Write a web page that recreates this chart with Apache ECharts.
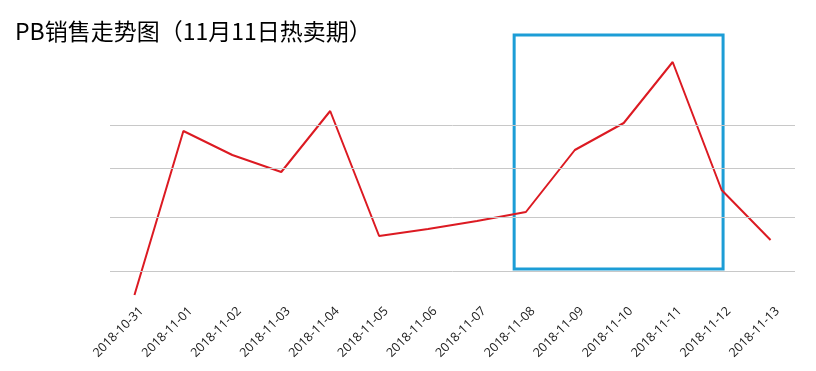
<!DOCTYPE html>
<html>
<head>
<meta charset="utf-8">
<script src="https://cdn.jsdelivr.net/npm/echarts@6/dist/echarts.min.js"></script>
<style>html,body{margin:0;padding:0;background:#fff}#c{width:816px;height:371px}</style>
</head>
<body>
<div id="c"></div>
<script>
var titleText = 'PB销售走势图（11月11日热卖期）';
var categories = ['2018-10-31','2018-11-01','2018-11-02','2018-11-03','2018-11-04','2018-11-05','2018-11-06','2018-11-07','2018-11-08','2018-11-09','2018-11-10','2018-11-11','2018-11-12','2018-11-13'];
var sales = [5, 169, 145, 128, 189, 64, 71, 79, 88, 150, 177, 238, 110, 60];
var gridValues = [29, 83, 132, 175];
var highlightStart = 7.76, highlightEnd = 12.03;
var highlightTop = 265, highlightBottom = 31;

var chart = echarts.init(document.getElementById('c'));
chart.setOption({
  animation: false,
  backgroundColor: '#fff',
  title: {
    text: titleText, left: 10, top: 15,
    textStyle: {fontFamily: 'Noto Sans CJK SC', fontSize: 23, fontWeight: 'normal', color: '#000'}
  },
  grid: {left: 110, right: 21, top: 30, bottom: 71},
  xAxis: [{
    type: 'category', data: categories, boundaryGap: true,
    axisLine: {show: false}, axisTick: {show: false},
    axisLabel: {rotate: 45, interval: 0, margin: 2, fontSize: 12.5, color: '#1a1a1a', fontFamily: 'Open Sans', verticalAlign: 'top', lineHeight: 20}
  }, {
    type: 'value', min: -0.5, max: 13.5, show: false
  }],
  yAxis: {
    type: 'value', min: 0, max: 270,
    axisLabel: {show: false}, axisLine: {show: false}, axisTick: {show: false},
    splitLine: {show: false}
  },
  series: [{
    type: 'line', data: sales, symbol: 'none',
    lineStyle: {color: '#dc1a22', width: 2},
    z: 3,
    markLine: {
      silent: true, symbol: ['none','none'], label: {show: false},
      lineStyle: {color: '#c8c8c8', type: 'solid', width: 1},
      data: gridValues.map(function(v){ return {yAxis: v}; })
    }
  }, {
    type: 'line', xAxisIndex: 1, data: [],
    markArea: {
      silent: true,
      itemStyle: {color: 'rgba(0,0,0,0)', borderColor: '#1c9dd6', borderWidth: 3},
      data: [[{coord: [highlightStart, highlightTop]}, {coord: [highlightEnd, highlightBottom]}]]
    }
  }]
});
</script>
</body>
</html>
